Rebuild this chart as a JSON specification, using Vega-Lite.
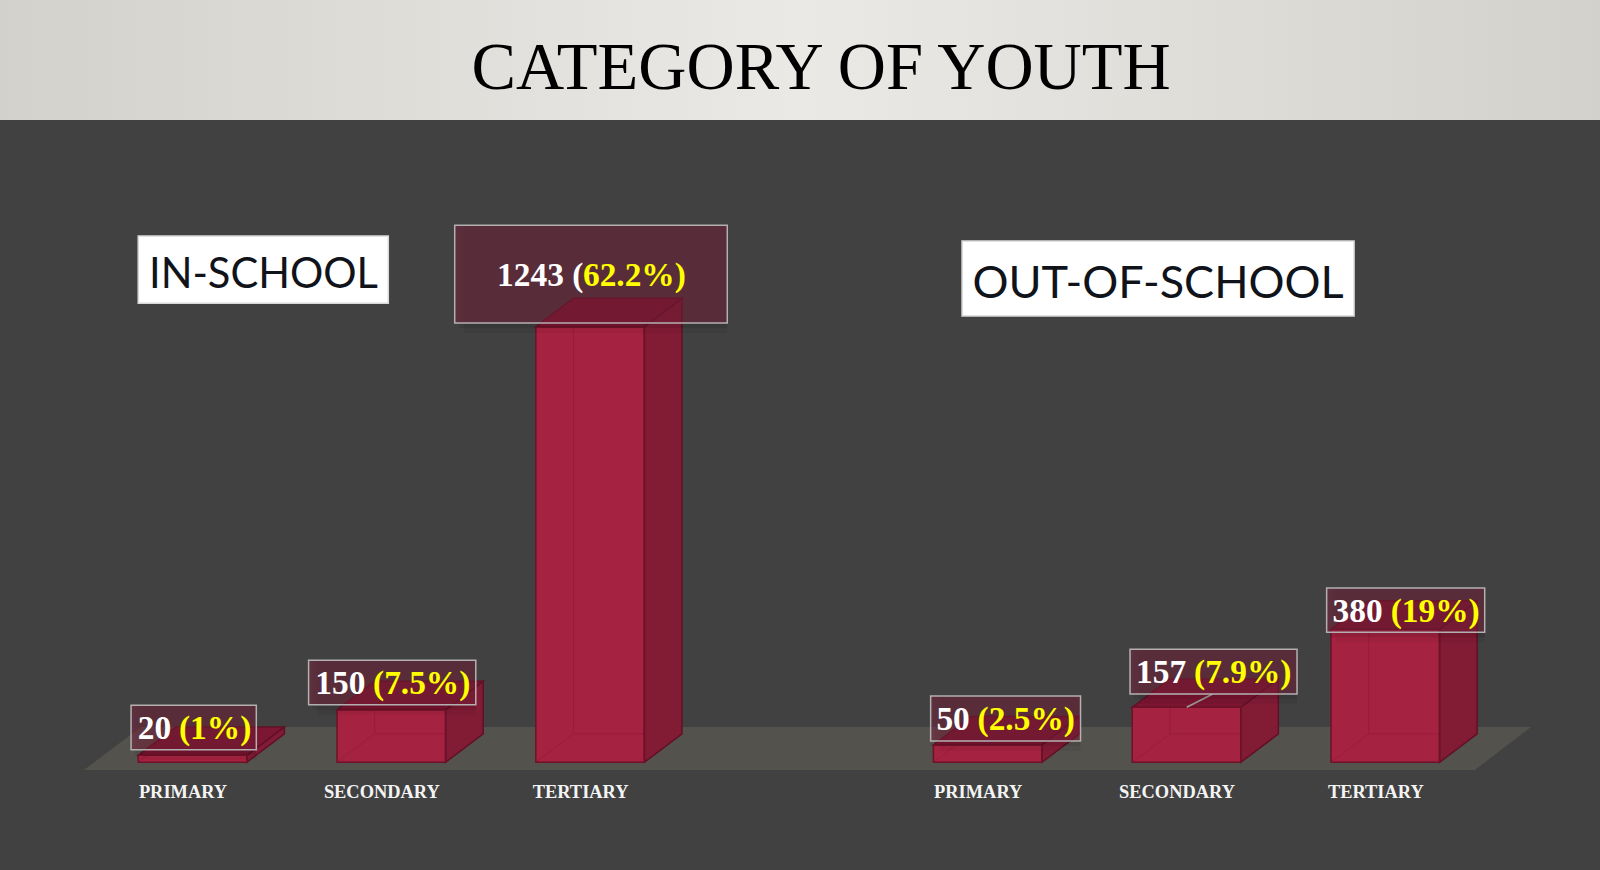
{
"$schema":"https://vega.github.io/schema/vega-lite/v6.json",
"autosize":{"type":"fit","contains":"padding"},"padding":0,"width":1600,"height":870,
"background":"#414141",
"config":{"view":{"stroke":null}},
"resolve":{"axis":{"x":"independent"}},
"datasets":{
"bars":[
{"group":"In-school","level":"Primary","value":20,"base":0,"pos":1,"left":0.727,"right":1.273,"white":"20","pct":"(1%)","whiteEnd":0.893,"pctStart":0.932,"textY":66.5,"boxL":0.691,"boxR":1.321,"boxB":36,"boxT":162.7},
{"group":"In-school","level":"Secondary","value":150,"base":0,"pos":2,"left":1.727,"right":2.273,"white":"150","pct":"(7.5%)","whiteEnd":1.87,"pctStart":1.908,"textY":194.9,"boxL":1.584,"boxR":2.425,"boxB":164.4,"boxT":291.1},
{"group":"In-school","level":"Tertiary","value":1243,"base":0,"pos":3,"left":2.727,"right":3.273,"white":"1243 (","pct":"62.2%)","whiteEnd":2.966,"pctStart":2.964,"textY":1359.3,"boxL":2.319,"boxR":3.69,"boxB":1253.7,"boxT":1532.5},
{"group":"Out-of-school","level":"Primary","value":50,"base":0,"pos":5,"left":4.727,"right":5.273,"white":"50","pct":"(2.5%)","whiteEnd":4.91,"pctStart":4.949,"textY":92.2,"boxL":4.713,"boxR":5.467,"boxB":60.8,"boxT":189.2},
{"group":"Out-of-school","level":"Secondary","value":157,"base":0,"pos":6,"left":5.727,"right":6.273,"white":"157","pct":"(7.9%)","whiteEnd":5.998,"pctStart":6.038,"textY":225.5,"boxL":5.716,"boxR":6.556,"boxB":194.9,"boxT":322.5},
{"group":"Out-of-school","level":"Tertiary","value":380,"base":0,"pos":7,"left":6.727,"right":7.273,"white":"380","pct":"(19%)","whiteEnd":6.987,"pctStart":7.027,"textY":401.3,"boxL":6.705,"boxR":7.5,"boxB":371,"boxT":497.4}
],
"faces":[
{"bar":1,"face":"side","x":1.273,"lo":0,"hi":20},{"bar":1,"face":"side","x":1.462,"lo":81,"hi":101},
{"bar":2,"face":"side","x":2.273,"lo":0,"hi":150},{"bar":2,"face":"side","x":2.462,"lo":81,"hi":231},
{"bar":3,"face":"side","x":3.273,"lo":0,"hi":1243},{"bar":3,"face":"side","x":3.462,"lo":81,"hi":1324},
{"bar":5,"face":"side","x":5.273,"lo":0,"hi":50},{"bar":5,"face":"side","x":5.462,"lo":81,"hi":131},
{"bar":6,"face":"side","x":6.273,"lo":0,"hi":157},{"bar":6,"face":"side","x":6.462,"lo":81,"hi":238},
{"bar":7,"face":"side","x":7.273,"lo":0,"hi":380},{"bar":7,"face":"side","x":7.462,"lo":81,"hi":461},
{"bar":1,"face":"top","x":0.727,"lo":20,"hi":20},{"bar":1,"face":"top","x":0.916,"lo":20,"hi":101},{"bar":1,"face":"top","x":1.273,"lo":20,"hi":101},{"bar":1,"face":"top","x":1.462,"lo":101,"hi":101},
{"bar":2,"face":"top","x":1.727,"lo":150,"hi":150},{"bar":2,"face":"top","x":1.916,"lo":150,"hi":231},{"bar":2,"face":"top","x":2.273,"lo":150,"hi":231},{"bar":2,"face":"top","x":2.462,"lo":231,"hi":231},
{"bar":3,"face":"top","x":2.727,"lo":1243,"hi":1243},{"bar":3,"face":"top","x":2.916,"lo":1243,"hi":1324},{"bar":3,"face":"top","x":3.273,"lo":1243,"hi":1324},{"bar":3,"face":"top","x":3.462,"lo":1324,"hi":1324},
{"bar":5,"face":"top","x":4.727,"lo":50,"hi":50},{"bar":5,"face":"top","x":4.916,"lo":50,"hi":131},{"bar":5,"face":"top","x":5.273,"lo":50,"hi":131},{"bar":5,"face":"top","x":5.462,"lo":131,"hi":131},
{"bar":6,"face":"top","x":5.727,"lo":157,"hi":157},{"bar":6,"face":"top","x":5.916,"lo":157,"hi":238},{"bar":6,"face":"top","x":6.273,"lo":157,"hi":238},{"bar":6,"face":"top","x":6.462,"lo":238,"hi":238},
{"bar":7,"face":"top","x":6.727,"lo":380,"hi":380},{"bar":7,"face":"top","x":6.916,"lo":380,"hi":461},{"bar":7,"face":"top","x":7.273,"lo":380,"hi":461},{"bar":7,"face":"top","x":7.462,"lo":461,"hi":461},
{"bar":1,"face":"inner","x":0.727,"lo":0,"hi":0},{"bar":1,"face":"inner","x":0.916,"lo":0,"hi":81},{"bar":1,"face":"inner","x":1.273,"lo":0,"hi":81},{"bar":1,"face":"inner","x":1.462,"lo":81,"hi":81},
{"bar":2,"face":"inner","x":1.727,"lo":0,"hi":0},{"bar":2,"face":"inner","x":1.916,"lo":0,"hi":81},{"bar":2,"face":"inner","x":2.273,"lo":0,"hi":81},{"bar":2,"face":"inner","x":2.462,"lo":81,"hi":81},
{"bar":3,"face":"inner","x":2.727,"lo":0,"hi":0},{"bar":3,"face":"inner","x":2.916,"lo":0,"hi":81},{"bar":3,"face":"inner","x":3.273,"lo":0,"hi":81},{"bar":3,"face":"inner","x":3.462,"lo":81,"hi":81},
{"bar":5,"face":"inner","x":4.727,"lo":0,"hi":0},{"bar":5,"face":"inner","x":4.916,"lo":0,"hi":81},{"bar":5,"face":"inner","x":5.273,"lo":0,"hi":81},{"bar":5,"face":"inner","x":5.462,"lo":81,"hi":81},
{"bar":6,"face":"inner","x":5.727,"lo":0,"hi":0},{"bar":6,"face":"inner","x":5.916,"lo":0,"hi":81},{"bar":6,"face":"inner","x":6.273,"lo":0,"hi":81},{"bar":6,"face":"inner","x":6.462,"lo":81,"hi":81},
{"bar":7,"face":"inner","x":6.727,"lo":0,"hi":0},{"bar":7,"face":"inner","x":6.916,"lo":0,"hi":81},{"bar":7,"face":"inner","x":7.273,"lo":0,"hi":81},{"bar":7,"face":"inner","x":7.462,"lo":81,"hi":81}
],
"backs":[
{"x0":0.916,"x1":0.916,"y0":81,"y1":101},{"x0":1.916,"x1":1.916,"y0":81,"y1":231},{"x0":2.916,"x1":2.916,"y0":81,"y1":1324},
{"x0":4.916,"x1":4.916,"y0":81,"y1":131},{"x0":5.916,"x1":5.916,"y0":81,"y1":238},{"x0":6.916,"x1":6.916,"y0":81,"y1":461}
],
"floor":[
{"x":0.454,"lo":-22,"hi":-22},{"x":0.741,"lo":-22,"hi":101},{"x":7.451,"lo":-22,"hi":101},{"x":7.733,"lo":101,"hi":101}
],
"header":[{"x0":0.0317,"x1":8.08,"y0":1833,"y1":2175.5,"x":4.162,"y":1921,"label":"CATEGORY OF YOUTH"}],
"panels":[
{"label":"IN-SCHOOL","x0":0.727,"x1":1.985,"y0":1310,"y1":1502,"tx":1.357,"ty":1354,"fs":41.6},
{"label":"OUT-OF-SCHOOL","x0":4.871,"x1":6.843,"y0":1273.7,"y1":1488,"tx":5.857,"ty":1325,"fs":45}
],
"leader":[{"x0":6.001,"x1":6.132,"y0":157,"y1":194.9}]
},
"layer":[
{"data":{"name":"header"},"mark":{"type":"rect","fill":{"gradient":"linear","x1":0,"y1":0,"x2":1,"y2":0,"stops":[{"offset":0,"color":"#d3d1cb"},{"offset":0.5,"color":"#ebe9e6"},{"offset":1,"color":"#d3d1cb"}]}},
"encoding":{"x":{"field":"x0","type":"quantitative","scale":{"domain":[0.0317,8.08],"nice":false,"zero":false},"axis":null},"x2":{"field":"x1"},"y":{"field":"y0","type":"quantitative","scale":{"domain":[-307.4,2175.5],"nice":false,"zero":false},"axis":null},"y2":{"field":"y1"}}},
{"data":{"name":"header"},"mark":{"type":"text","font":"Liberation Serif","fontSize":66.7,"color":"#000000","align":"center","baseline":"alphabetic"},
"encoding":{"x":{"field":"x","type":"quantitative","scale":{"domain":[0.0317,8.08],"nice":false,"zero":false},"axis":null},"y":{"field":"y","type":"quantitative","scale":{"domain":[-307.4,2175.5],"nice":false,"zero":false},"axis":null},"text":{"field":"label"}}},
{"data":{"name":"floor"},"mark":{"type":"area","color":"#53524d","orient":"vertical"},
"encoding":{"x":{"field":"x","type":"quantitative","scale":{"domain":[0.0317,8.08],"nice":false,"zero":false},"axis":null},"y":{"field":"hi","type":"quantitative","stack":null,"scale":{"domain":[-307.4,2175.5],"nice":false,"zero":false},"axis":null},"y2":{"field":"lo"}}},
{"data":{"name":"panels"},"mark":{"type":"rect","fill":"#ffffff","stroke":"#d8d8d8","strokeWidth":1.5},
"encoding":{"x":{"field":"x0","type":"quantitative","scale":{"domain":[0.0317,8.08],"nice":false,"zero":false},"axis":null},"x2":{"field":"x1"},"y":{"field":"y0","type":"quantitative","scale":{"domain":[-307.4,2175.5],"nice":false,"zero":false},"axis":null},"y2":{"field":"y1"}}},
{"data":{"name":"panels"},"mark":{"type":"text","font":"Lato","color":"#10131a","align":"center","baseline":"alphabetic"},
"encoding":{"x":{"field":"tx","type":"quantitative","scale":{"domain":[0.0317,8.08],"nice":false,"zero":false},"axis":null},"y":{"field":"ty","type":"quantitative","scale":{"domain":[-307.4,2175.5],"nice":false,"zero":false},"axis":null},"text":{"field":"label"},"size":{"field":"fs","type":"quantitative","scale":null}}},
{"data":{"name":"bars"},"mark":{"type":"rect","fill":"#a62241"},
"encoding":{"x":{"field":"left","type":"quantitative","scale":{"domain":[0.0317,8.08],"nice":false,"zero":false},
"axis":{"title":null,"values":[1,2,3,5,6,7],"orient":"bottom","offset":-88,"domain":false,"ticks":false,"grid":false,"labelFont":"Liberation Serif","labelFontWeight":"bold","labelFontSize":18.4,"labelColor":"#f4f4f4","labelPadding":0,"labelOffset":-10,"labelFlush":false,"labelOverlap":false,"labelAngle":0,"zindex":1,
"labelExpr":"datum.value==1||datum.value==5?'PRIMARY':(datum.value==2||datum.value==6?'SECONDARY':'TERTIARY')"}},
"x2":{"field":"right"},"y":{"field":"value","type":"quantitative","scale":{"domain":[-307.4,2175.5],"nice":false,"zero":false},"axis":null},"y2":{"field":"base"}}},
{"data":{"name":"faces"},"transform":[{"filter":"datum.face=='inner'"}],"mark":{"type":"area","orient":"vertical","fill":"#a62241","fillOpacity":0,"stroke":"#981d3b","strokeWidth":1},
"encoding":{"x":{"field":"x","type":"quantitative","scale":{"domain":[0.0317,8.08],"nice":false,"zero":false},"axis":null},"y":{"field":"hi","type":"quantitative","stack":null,"scale":{"domain":[-307.4,2175.5],"nice":false,"zero":false},"axis":null},"y2":{"field":"lo"},"detail":{"field":"bar"}}},
{"data":{"name":"backs"},"mark":{"type":"rule","color":"#981d3b","strokeWidth":1},
"encoding":{"x":{"field":"x0","type":"quantitative","scale":{"domain":[0.0317,8.08],"nice":false,"zero":false},"axis":null},"y":{"field":"y0","type":"quantitative","scale":{"domain":[-307.4,2175.5],"nice":false,"zero":false},"axis":null},"y2":{"field":"y1"}}},
{"data":{"name":"faces"},"transform":[{"filter":"datum.face=='side'"}],"mark":{"type":"area","orient":"vertical","fill":"#821c35","stroke":"#611027","strokeWidth":1.5},
"encoding":{"x":{"field":"x","type":"quantitative","scale":{"domain":[0.0317,8.08],"nice":false,"zero":false},"axis":null},"y":{"field":"hi","type":"quantitative","stack":null,"scale":{"domain":[-307.4,2175.5],"nice":false,"zero":false},"axis":null},"y2":{"field":"lo"},"detail":{"field":"bar"}}},
{"data":{"name":"faces"},"transform":[{"filter":"datum.face=='top'"}],"mark":{"type":"area","orient":"vertical","fill":"#7c1631","stroke":"#611027","strokeWidth":1.5},
"encoding":{"x":{"field":"x","type":"quantitative","scale":{"domain":[0.0317,8.08],"nice":false,"zero":false},"axis":null},"y":{"field":"hi","type":"quantitative","stack":null,"scale":{"domain":[-307.4,2175.5],"nice":false,"zero":false},"axis":null},"y2":{"field":"lo"},"detail":{"field":"bar"}}},
{"data":{"name":"bars"},"mark":{"type":"rect","fillOpacity":0,"stroke":"#6e1229","strokeWidth":1.5},
"encoding":{"x":{"field":"left","type":"quantitative","scale":{"domain":[0.0317,8.08],"nice":false,"zero":false},"axis":null},"x2":{"field":"right"},"y":{"field":"value","type":"quantitative","scale":{"domain":[-307.4,2175.5],"nice":false,"zero":false},"axis":null},"y2":{"field":"base"}}},
{"data":{"name":"leader"},"mark":{"type":"rule","color":"#a09a9c","strokeWidth":1.5},
"encoding":{"x":{"field":"x0","type":"quantitative","scale":{"domain":[0.0317,8.08],"nice":false,"zero":false},"axis":null},"x2":{"field":"x1"},"y":{"field":"y0","type":"quantitative","scale":{"domain":[-307.4,2175.5],"nice":false,"zero":false},"axis":null},"y2":{"field":"y1"}}},
{"data":{"name":"bars"},"mark":{"type":"rect","fill":"#000000","fillOpacity":0.07,"xOffset":4,"yOffset":5},
"encoding":{"x":{"field":"boxL","type":"quantitative","scale":{"domain":[0.0317,8.08],"nice":false,"zero":false},"axis":null},"x2":{"field":"boxR"},"y":{"field":"boxB","type":"quantitative","scale":{"domain":[-307.4,2175.5],"nice":false,"zero":false},"axis":null},"y2":{"field":"boxT"}}},
{"data":{"name":"bars"},"mark":{"type":"rect","fill":"#000000","fillOpacity":0.05,"xOffset":9,"yOffset":10},
"encoding":{"x":{"field":"boxL","type":"quantitative","scale":{"domain":[0.0317,8.08],"nice":false,"zero":false},"axis":null},"x2":{"field":"boxR"},"y":{"field":"boxB","type":"quantitative","scale":{"domain":[-307.4,2175.5],"nice":false,"zero":false},"axis":null},"y2":{"field":"boxT"}}},
{"data":{"name":"bars"},"mark":{"type":"rect","fill":"#7a1f3a","fillOpacity":0.5,"stroke":"#b4b0b2","strokeWidth":1.5},
"encoding":{"x":{"field":"boxL","type":"quantitative","scale":{"domain":[0.0317,8.08],"nice":false,"zero":false},"axis":null},"x2":{"field":"boxR"},"y":{"field":"boxB","type":"quantitative","scale":{"domain":[-307.4,2175.5],"nice":false,"zero":false},"axis":null},"y2":{"field":"boxT"}}},
{"data":{"name":"bars"},"mark":{"type":"text","font":"Liberation Serif","fontWeight":"bold","fontSize":33.4,"color":"#ffffff","align":"right","baseline":"alphabetic"},
"encoding":{"x":{"field":"whiteEnd","type":"quantitative","scale":{"domain":[0.0317,8.08],"nice":false,"zero":false},"axis":null},"y":{"field":"textY","type":"quantitative","scale":{"domain":[-307.4,2175.5],"nice":false,"zero":false},"axis":null},"text":{"field":"white"}}},
{"data":{"name":"bars"},"mark":{"type":"text","font":"Liberation Serif","fontWeight":"bold","fontSize":33.4,"color":"#ffff00","align":"left","baseline":"alphabetic"},
"encoding":{"x":{"field":"pctStart","type":"quantitative","scale":{"domain":[0.0317,8.08],"nice":false,"zero":false},"axis":null},"y":{"field":"textY","type":"quantitative","scale":{"domain":[-307.4,2175.5],"nice":false,"zero":false},"axis":null},"text":{"field":"pct"}}}
]
}
